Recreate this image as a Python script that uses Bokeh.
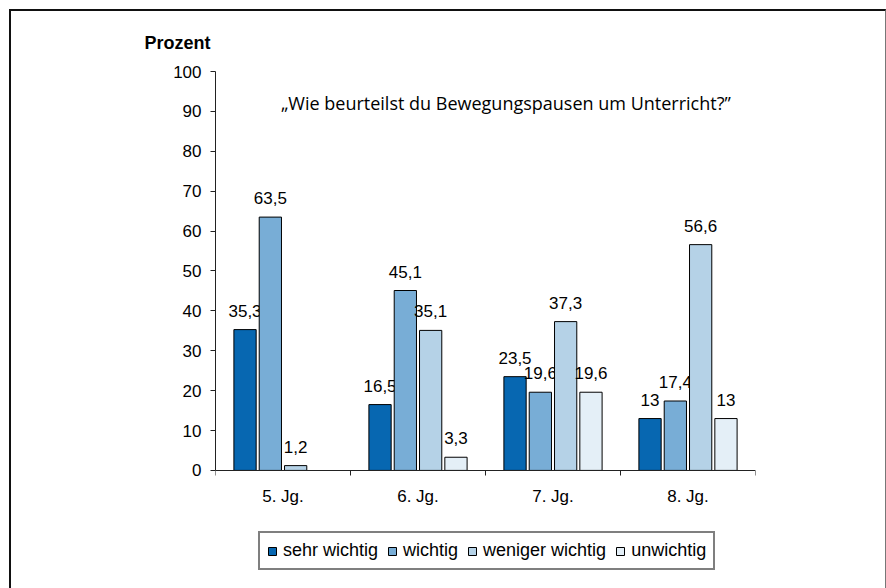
from bokeh.plotting import figure
from bokeh.models import (ColumnDataSource, FixedTicker, Range1d, Legend, LegendItem,
                          Label, InlineStyleSheet)
from bokeh.core.properties import value
from bokeh.embed import file_html
from bokeh.resources import INLINE

groups = ["5. Jg.", "6. Jg.", "7. Jg.", "8. Jg."]
series = ["sehr wichtig", "wichtig", "weniger wichtig", "unwichtig"]
sehr_wichtig = [35.3, 16.5, 23.5, 13.0]
wichtig = [63.5, 45.1, 19.6, 17.4]
weniger_wichtig = [1.2, 35.1, 37.3, 56.6]
unwichtig = [None, 3.3, 19.6, 13.0]
colors = ["#0767B1", "#78ADD6", "#B5D2E7", "#E4EFF7"]
y_ticks = list(range(0, 101, 10))
title_text = "\u201eWie beurteilst du Bewegungspausen um Unterricht?\u201d"

all_values = [sehr_wichtig, wichtig, weniger_wichtig, unwichtig]

border_css = InlineStyleSheet(css="""
:host { position: relative; }
:host::after {
  content: ""; position: absolute; left: 9px; top: 9px; width: 877px; height: 579px;
  box-sizing: border-box; border-left: 2px solid #111; border-top: 2px solid #111;
  border-right: 1px solid #777; pointer-events: none;
}
""")

FONT = "Liberation Sans"
Y_MIN = -28.6

p = figure(width=886, height=588, output_backend="svg", toolbar_location=None,
           x_range=Range1d(0, 4), y_range=Range1d(Y_MIN, 100),
           min_border_left=215, min_border_right=131, min_border_top=71,
           min_border_bottom=4, title="Prozent", stylesheets=[border_css])
p.outline_line_color = None
p.xgrid.grid_line_color = None
p.ygrid.grid_line_color = None
p.background_fill_color = "white"
p.border_fill_color = "white"

p.title.text_font = FONT
p.title.text_font_style = "bold"
p.title.text_font_size = "18px"
p.title.text_color = "black"
p.title.align = "left"
p.title.offset = -71
p.title.standoff = 38

# y axis
p.yaxis.ticker = FixedTicker(ticks=y_ticks, minor_ticks=[])
p.yaxis.bounds = (0, 100)
p.yaxis.major_tick_out = 5
p.yaxis.major_tick_in = 0
p.yaxis.minor_tick_line_color = None
p.yaxis.axis_line_color = "#222222"
p.yaxis.major_tick_line_color = "#222222"
p.yaxis.major_label_text_font = FONT
p.yaxis.major_label_text_font_size = "17px"
p.yaxis.major_label_text_color = "black"
p.yaxis.major_label_standoff = 9

# x axis, drawn at y = 0; group boundaries as ticks
centers = [i + 0.5 for i in range(len(groups))]
p.xaxis.fixed_location = 0
p.xaxis.ticker = FixedTicker(ticks=[], minor_ticks=list(range(len(groups) + 1)))
p.xaxis.major_label_standoff = 0
p.xaxis.major_tick_line_color = None
p.xaxis.major_tick_out = 0
p.xaxis.major_tick_in = 0
p.xaxis.minor_tick_out = 5
p.xaxis.minor_tick_in = 0
p.xaxis.minor_tick_line_color = "#222222"
p.xaxis.axis_line_color = "#222222"

# category labels under the axis
p.text(x=centers, y=[0] * len(groups), text=groups, text_align="center",
       text_baseline="middle", y_offset=26, text_font=value(FONT),
       text_font_size="17px", text_color="black")

step = 0.1875
width = 0.165
items = []
for k, (name, vals, col) in enumerate(zip(series, all_values, colors)):
    xs, ys, labels = [], [], []
    for i, v in enumerate(vals):
        if v is None:
            continue
        xs.append(centers[i] + (k - 1.5) * step)
        ys.append(v)
        labels.append(("%g" % v).replace(".", ","))
    src = ColumnDataSource(dict(x=xs, top=ys, label=labels))
    r = p.vbar(x="x", top="top", width=width, bottom=0, source=src,
               fill_color=col, line_color="black", line_width=1)
    p.text(x="x", y="top", text="label", source=src, text_align="center",
           text_baseline="middle", y_offset=-19, text_font=value(FONT),
           text_font_size="17px", text_color="black")
    items.append(LegendItem(label=name, renderers=[r]))

legend = Legend(items=items, orientation="horizontal", location=(43, 14))
legend.label_text_font = FONT
legend.label_text_font_size = "18px"
legend.label_text_color = "black"
legend.glyph_width = 10
legend.glyph_height = 10
legend.label_standoff = 6
legend.spacing = 9
legend.padding = 7
legend.margin = 0
legend.border_line_color = "black"
legend.border_line_width = 2
legend.background_fill_color = "white"
legend.background_fill_alpha = 1
p.add_layout(legend, "center")

# chart title inside plot
p.add_layout(Label(x=0.485, y=92, text=title_text, text_font="Open Sans",
                   text_font_size="18px", text_baseline="middle", text_color="black"))

open("out.html", "w").write(file_html(p, INLINE))
